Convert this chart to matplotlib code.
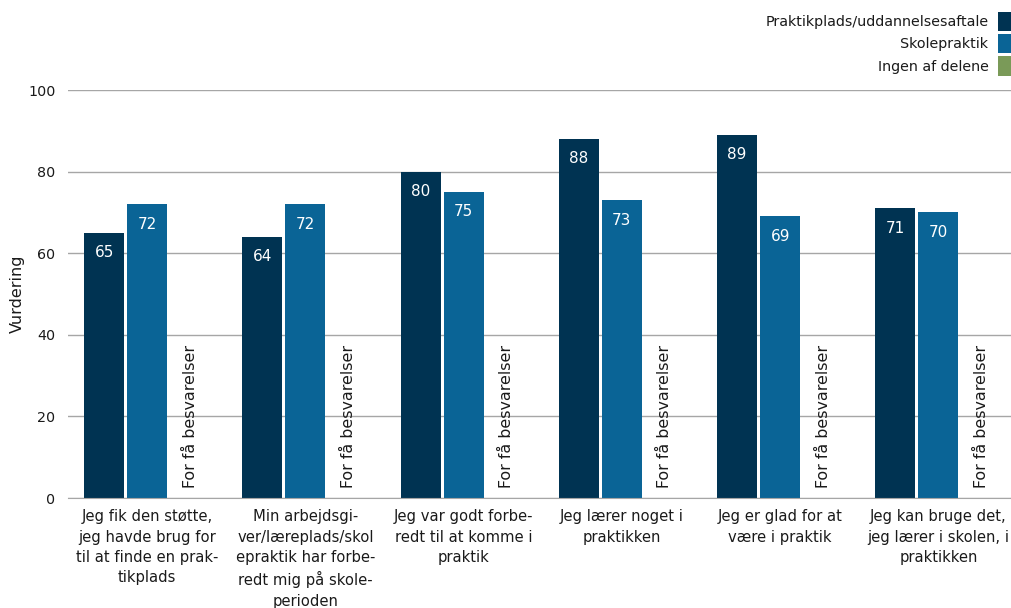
import matplotlib.pyplot as plt
import numpy as np
from matplotlib.patches import Patch

# ==============================================
# DATA
# ==============================================
categories = [
    "Jeg fik den støtte,\njeg havde brug for\ntil at finde en prak-\ntikplads",
    "Min arbejdsgi-\nver/læreplads/skol\nepraktik har forbe-\nredt mig på skole-\nperioden",
    "Jeg var godt forbe-\nredt til at komme i\npraktik",
    "Jeg lærer noget i\npraktikken",
    "Jeg er glad for at\nvære i praktik",
    "Jeg kan bruge det,\njeg lærer i skolen, i\npraktikken",
]
series_names = ["Praktikplads/uddannelsesaftale", "Skolepraktik", "Ingen af delene"]
praktikplads = [65, 64, 80, 88, 89, 71]
skolepraktik = [72, 72, 75, 73, 69, 70]
ingen = [None, None, None, None, None, None]   # for få besvarelser
missing_text = "For få besvarelser"
y_ticks = [0, 20, 40, 60, 80, 100]

# ==============================================
# STYLE
# ==============================================
COLORS = ["#003352", "#0A6496", "#7A9A58"]
GRID = "#A6A6A6"
TEXT = "#1a1a1a"
plt.rcParams["font.family"] = ["DejaVu Sans"]
plt.rcParams["font.size"] = 10

fig = plt.figure(figsize=(10.12, 6.08), dpi=100)
ax = fig.add_axes([68 / 1012, 1 - 498 / 608, 1 - 68 / 1012, 408 / 608])

x = np.arange(len(categories))
width = 0.253
step = 0.272

for k, values in enumerate([praktikplads, skolepraktik, ingen]):
    xs = x + (k - 1) * step
    for xi, v in zip(xs, values):
        if v is None:
            ax.annotate(missing_text, (xi, 0), xytext=(0, 10), textcoords="offset pixels",
                        rotation=90, ha="center", va="bottom", color=TEXT, fontsize=11.4)
            continue
        ax.bar(xi, v, width=width, color=COLORS[k], zorder=2)
        ax.annotate(f"{v}", (xi, v), xytext=(0, -20), textcoords="offset pixels",
                    ha="center", va="center", color="white", fontsize=11)

ax.set_xlim(-0.5, 5.465)
ax.set_ylim(0, 100)
ax.set_yticks(y_ticks)
ax.set_xticks(x)
ax.set_xticklabels(categories, linespacing=1.45, fontsize=10.6)
ax.tick_params(axis="both", length=0, colors=TEXT)
ax.tick_params(axis="x", pad=8)
ax.tick_params(axis="y", pad=9, labelsize=10.3)
ax.yaxis.grid(True, color=GRID, linewidth=1)
ax.set_axisbelow(True)
for s in ["top", "right", "left"]:
    ax.spines[s].set_visible(False)
ax.spines["bottom"].set_color(GRID)
ax.set_ylabel("Vurdering", fontsize=11.5, color=TEXT)
ax.yaxis.set_label_coords(-(68 - 25) / 944, 0.5)

handles = [Patch(facecolor=c, edgecolor="none") for c in COLORS]
fig.legend(handles, series_names, loc="upper right", bbox_to_anchor=(1.0, 1 - 12 / 608),
           frameon=False, markerfirst=False, handlelength=1.0, handleheight=1.7,
           handletextpad=0.65, labelspacing=0.2, borderpad=0, borderaxespad=0,
           fontsize=10.3, labelcolor=TEXT)

fig.savefig("out.png", dpi=100)
